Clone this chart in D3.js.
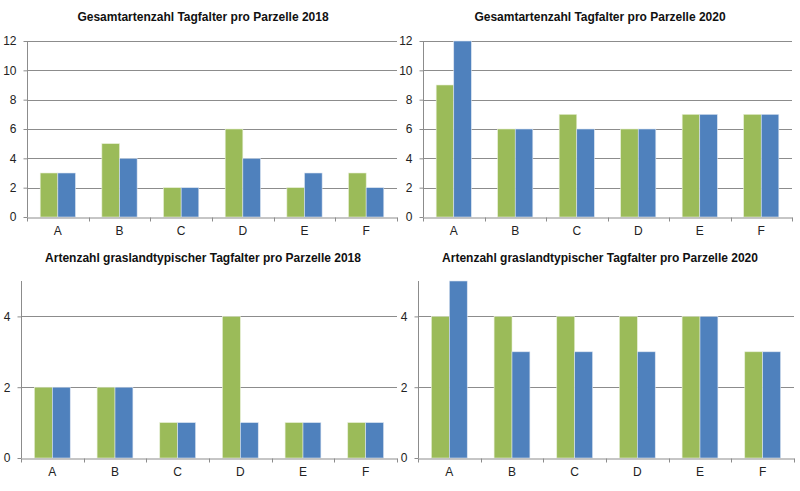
<!DOCTYPE html>
<html>
<head>
<meta charset="utf-8">
<script src="https://cdn.jsdelivr.net/npm/d3@7"></script>
<style>
  body { margin: 0; background: #fff; }
  svg { display: block; font-family: "Liberation Sans", Arial, sans-serif; }
</style>
</head>
<body>
<svg id="chart" width="800" height="491"></svg>
<script>
var categories = ["A", "B", "C", "D", "E", "F"];

var gesamt2018Green = [3, 5, 2, 6, 2, 3];
var gesamt2018Blue  = [3, 4, 2, 4, 3, 2];
var gesamt2020Green = [9, 6, 7, 6, 7, 7];
var gesamt2020Blue  = [12, 6, 6, 6, 7, 7];
var gras2018Green = [2, 2, 1, 4, 1, 1];
var gras2018Blue  = [2, 2, 1, 1, 1, 1];
var gras2020Green = [4, 4, 4, 4, 4, 3];
var gras2020Blue  = [5, 3, 3, 3, 4, 3];

var ticksGesamt = [0, 2, 4, 6, 8, 10, 12];
var ticksGras = [0, 2, 4];

var titles = [
  "Gesamtartenzahl Tagfalter pro Parzelle 2018",
  "Gesamtartenzahl Tagfalter pro Parzelle 2020",
  "Artenzahl graslandtypischer Tagfalter pro Parzelle 2018",
  "Artenzahl graslandtypischer Tagfalter pro Parzelle 2020"
];

var svg = d3.select("#chart");

// panel layout (pixels)
var panels = [
  { title: titles[0], green: gesamt2018Green, blue: gesamt2018Blue, ticks: ticksGesamt, max: 12,
    x0: 27, x1: 397, yTop: 41, yBot: 217, titleX: 203, titleY: 21 },
  { title: titles[1], green: gesamt2020Green, blue: gesamt2020Blue, ticks: ticksGesamt, max: 12,
    x0: 423, x1: 792, yTop: 41, yBot: 217, titleX: 600, titleY: 21 },
  { title: titles[2], green: gras2018Green, blue: gras2018Blue, ticks: ticksGras, max: 5,
    x0: 21, x1: 397, yTop: 281, yBot: 458, titleX: 203, titleY: 262 },
  { title: titles[3], green: gras2020Green, blue: gras2020Blue, ticks: ticksGras, max: 5,
    x0: 418, x1: 794, yTop: 281, yBot: 458, titleX: 600, titleY: 262 }
];

panels.forEach(drawPanel);

function drawPanel(p) {
  var g = svg.append("g");

  var x = d3.scaleBand().domain(categories).range([p.x0, p.x1]).paddingInner(0).paddingOuter(0);
  var y = d3.scaleLinear().domain([0, p.max]).range([p.yBot, p.yTop]);

  // gap width ~150% of a bar
  var inner = d3.scaleBand().domain(["g", "b"]).range([0, x.bandwidth()])
    .paddingInner(0).paddingOuter(0.75);

  // gridlines
  g.selectAll(".grid").data(p.ticks.filter(function(t){ return t > 0; }))
    .enter().append("line")
    .attr("x1", p.x0).attr("x2", p.x1)
    .attr("y1", function(d){ return Math.round(y(d)) + 0.5; })
    .attr("y2", function(d){ return Math.round(y(d)) + 0.5; })
    .attr("stroke", "#8c8c8c").attr("stroke-width", 1);

  // bars
  var rows = categories.map(function(c, i){ return { cat: c, g: p.green[i], b: p.blue[i] }; });
  var grp = g.selectAll(".cat").data(rows).enter().append("g")
    .attr("transform", function(d){ return "translate(" + x(d.cat) + ",0)"; });

  grp.append("rect")
    .attr("x", inner("g")).attr("width", inner.bandwidth())
    .attr("y", function(d){ return y(d.g); })
    .attr("height", function(d){ return y(0) - y(d.g); })
    .attr("fill", "#9bbb59").attr("stroke", "#e6eed4").attr("stroke-width", 0.6);

  grp.append("rect")
    .attr("x", inner("b")).attr("width", inner.bandwidth())
    .attr("y", function(d){ return y(d.b); })
    .attr("height", function(d){ return y(0) - y(d.b); })
    .attr("fill", "#4f81bd").attr("stroke", "#dbe4f0").attr("stroke-width", 0.6);

  // y axis
  var yAxis = d3.axisLeft(y).tickValues(p.ticks).tickFormat(d3.format("d")).tickSize(4).tickPadding(7);
  var ya = g.append("g").attr("transform", "translate(" + (p.x0 + 0.5) + ",0)").call(yAxis);
  ya.select(".domain").attr("stroke", "#8c8c8c").attr("d", "M0," + p.yTop + "V" + p.yBot);
  ya.selectAll(".tick line").attr("stroke", "#8c8c8c");
  ya.selectAll(".tick text").attr("fill", "#222").style("font-size", "12px");

  // x axis
  var xAxis = d3.axisBottom(x).tickSize(0).tickPadding(9);
  var xa = g.append("g").attr("transform", "translate(0," + (p.yBot + 0.5) + ")").call(xAxis);
  xa.select(".domain").attr("stroke", "#8c8c8c");
  xa.selectAll(".tick text").attr("fill", "#222").style("font-size", "12px");

  // category boundary ticks
  var bounds = categories.map(function(c){ return x(c); }).concat([p.x1]);
  xa.selectAll(".bt").data(bounds).enter().append("line")
    .attr("x1", function(d){ return Math.round(d) + 0.5; })
    .attr("x2", function(d){ return Math.round(d) + 0.5; })
    .attr("y1", 0).attr("y2", 4)
    .attr("stroke", "#8c8c8c");

  // title
  g.append("text")
    .attr("x", p.titleX).attr("y", p.titleY)
    .attr("text-anchor", "middle")
    .style("font-size", "12px").style("font-weight", "bold")
    .attr("fill", "#111")
    .text(p.title);
}
</script>
</body>
</html>
